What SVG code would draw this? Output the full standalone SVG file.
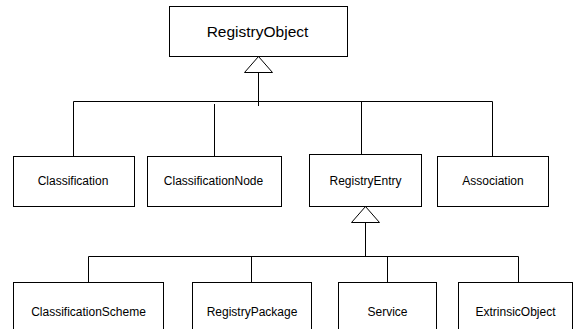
<svg xmlns="http://www.w3.org/2000/svg" width="573" height="329" viewBox="0 0 573 329">
<style>
.box{fill:#fff;stroke:#000;stroke-width:1}
.ln{fill:none;stroke:#000;stroke-width:1}
.tri{fill:#fff;stroke:#000;stroke-width:1}
text{font-family:"Liberation Sans",Arial,sans-serif;font-size:12px;fill:#000;text-anchor:middle}
.big{font-size:15.5px}
</style>
<rect width="573" height="329" fill="#fff"/>
<g id="connectors">
<polyline class="ln" points="73.5,156.5 73.5,101.5 492.5,101.5 492.5,156.5"/>
<line class="ln" x1="214.5" y1="104" x2="214.5" y2="156.5"/>
<line class="ln" x1="361.5" y1="101.5" x2="361.5" y2="154.5"/>
<line class="ln" x1="258.5" y1="72.5" x2="258.5" y2="106"/>
<polygon class="tri" points="258.5,56.5 244.5,72.5 272.5,72.5"/>
<polyline class="ln" points="88.5,282.5 88.5,256.5 518.5,256.5 518.5,282.5"/>
<line class="ln" x1="251.5" y1="256.5" x2="251.5" y2="282.5"/>
<line class="ln" x1="387.5" y1="256.5" x2="387.5" y2="282.5"/>
<line class="ln" x1="365.5" y1="222.5" x2="365.5" y2="256.5"/>
<polygon class="tri" points="365.5,206.5 351.5,222.5 379.5,222.5"/>
</g>
<g id="RegistryObject"><rect class="box" x="169.5" y="6.5" width="178" height="50"/><text class="big" x="257.5" y="37">RegistryObject</text></g>
<g id="Classification"><rect class="box" x="13.5" y="156.5" width="121" height="50"/><text x="73" y="184.5">Classification</text></g>
<g id="ClassificationNode"><rect class="box" x="147.5" y="156.5" width="134" height="50"/><text x="213.5" y="184.5">ClassificationNode</text></g>
<g id="RegistryEntry"><rect class="box" x="309.5" y="154.5" width="112" height="52"/><text x="365.5" y="184.5">RegistryEntry</text></g>
<g id="Association"><rect class="box" x="437.5" y="156.5" width="111" height="50"/><text x="493" y="184.5">Association</text></g>
<g id="ClassificationScheme"><rect class="box" x="13.5" y="282.5" width="150" height="60"/><text x="88.5" y="316">ClassificationScheme</text></g>
<g id="RegistryPackage"><rect class="box" x="192.5" y="282.5" width="119" height="60"/><text x="252" y="316">RegistryPackage</text></g>
<g id="Service"><rect class="box" x="338.5" y="282.5" width="98" height="60"/><text x="387.5" y="316">Service</text></g>
<g id="ExtrinsicObject"><rect class="box" x="458.5" y="282.5" width="114" height="60"/><text x="515.5" y="316">ExtrinsicObject</text></g>
</svg>
